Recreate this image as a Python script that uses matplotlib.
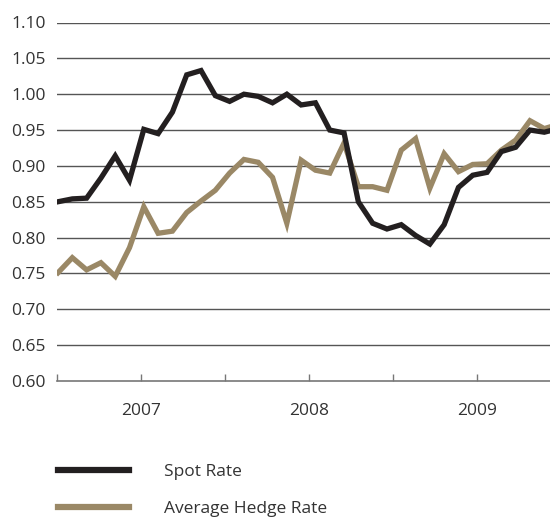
import numpy as np
import matplotlib
matplotlib.use("Agg")
import matplotlib.pyplot as plt

# values, roughly one point per month
spot_rate = [0.850, 0.854, 0.855, 0.883, 0.914, 0.880, 0.951, 0.945, 0.975, 1.027,
             1.033, 0.998, 0.990, 1.000, 0.997, 0.988, 1.000, 0.985, 0.988, 0.950,
             0.946, 0.850, 0.820, 0.812, 0.818, 0.803, 0.791, 0.818, 0.870, 0.887,
             0.891, 0.920, 0.926, 0.950, 0.947, 0.952]
hedge_rate = [0.751, 0.772, 0.755, 0.765, 0.746, 0.786, 0.843, 0.806, 0.809, 0.835,
              0.851, 0.866, 0.890, 0.909, 0.905, 0.884, 0.820, 0.908, 0.894, 0.890,
              0.932, 0.871, 0.871, 0.866, 0.922, 0.938, 0.869, 0.917, 0.892, 0.902,
              0.903, 0.922, 0.936, 0.963, 0.952, 0.958]
tick_labels = ['', '2007', '', '2008', '', '2009']
y_ticks = [0.60, 0.65, 0.70, 0.75, 0.80, 0.85, 0.90, 0.95, 1.00, 1.05, 1.10]

plt.rcParams['font.family'] = ['Open Sans', 'DejaVu Sans']

fig = plt.figure(figsize=(5.5, 5.17), dpi=100)
ax = fig.add_axes([57 / 550, 136 / 517, 493 / 550, 358.5 / 517])

x = np.arange(len(spot_rate))
ax.plot(x, spot_rate, color='#231f20', lw=3.8, solid_joinstyle='miter', label='Spot Rate', zorder=3)
ax.plot(x, hedge_rate, color='#9a8866', lw=3.8, solid_joinstyle='miter', label='Average Hedge Rate', zorder=2)

ax.set_ylim(0.60, 1.10)
ax.set_xlim(-0.07, 34.4)
ax.set_yticks(y_ticks)
ax.set_yticklabels(['%.2f' % v for v in y_ticks])
ax.set_xticks([-0.07 + 5.87 * k for k in range(6)])
ax.set_xticklabels(tick_labels)

for v in y_ticks[1:]:
    ax.axhline(v, color='#555555', lw=1.0, zorder=1)

for s in ['top', 'right', 'left']:
    ax.spines[s].set_visible(False)
ax.spines['bottom'].set_color('#777777')
ax.spines['bottom'].set_linewidth(1.2)

ax.tick_params(axis='y', length=0, pad=8, labelsize=12.5, labelcolor='#333333')
ax.tick_params(axis='x', direction='in', length=5, width=1.0, color='#777777',
               pad=16, labelsize=12.5, labelcolor='#333333')

leg = fig.legend(loc='upper left', bbox_to_anchor=(58 / 550, 0.1036), frameon=False,
                 handlelength=4.1, handletextpad=2.0, labelspacing=1.2,
                 borderpad=0, borderaxespad=0, fontsize=12.5)
for t in leg.get_texts():
    t.set_color('#333333')
for h in leg.legend_handles:
    h.set_linewidth(4.5)

fig.savefig('out.png', dpi=100)
